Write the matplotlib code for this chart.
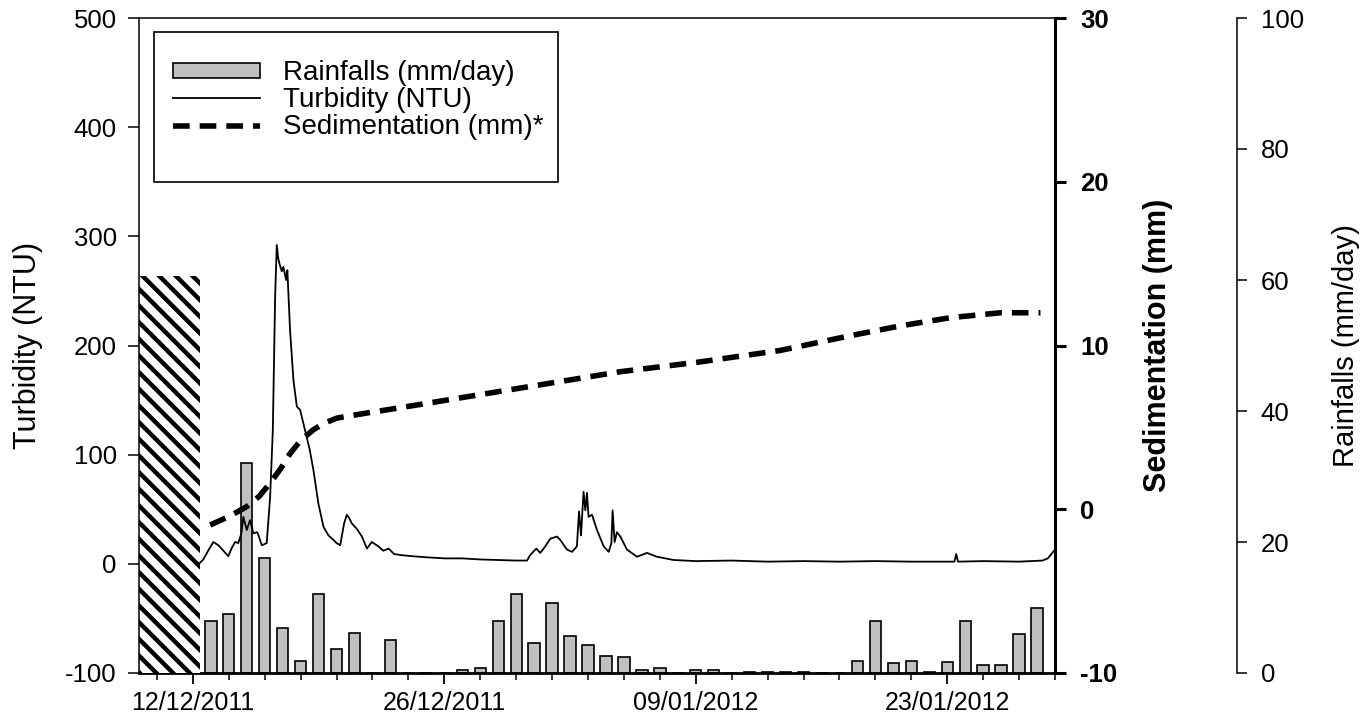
import matplotlib
matplotlib.use("Agg")
import matplotlib.pyplot as plt
from matplotlib.patches import Rectangle
import pandas as pd

plt.rcParams["font.family"] = ["Liberation Sans", "DejaVu Sans"]
plt.rcParams["hatch.linewidth"] = 3.2
plt.rcParams["hatch.color"] = "black"
plt.rcParams["axes.unicode_minus"] = False

# ---- data -------------------------------------------------------------
origin = pd.Timestamp("2011-12-09")
x_end = pd.Timestamp("2012-01-29")

rain_dates = pd.date_range("2011-12-13", "2012-01-28", freq="D")
rain_mm = [8.0, 9.0, 32.0, 17.6, 6.8, 1.8, 12.0, 3.6, 6.1, 0.0,
           5.0, 0.0, 0.0, 0.0, 0.4, 0.8, 8.0, 12.0, 4.6, 10.7,
           5.7, 4.3, 2.6, 2.4, 0.4, 0.8, 0.0, 0.4, 0.4, 0.0,
           0.2, 0.2, 0.2, 0.2, 0.0, 0.0, 1.8, 8.0, 1.5, 1.8,
           0.2, 1.7, 7.9, 1.2, 1.2, 5.9, 9.9]

# turbidity record, time in days after 09/12/2011
turb_day = [3.40, 3.58, 3.85, 4.14, 4.42, 4.70, 4.97, 5.15, 5.35, 5.53,
            5.70, 5.81, 6.00, 6.18, 6.37, 6.59, 6.84, 7.11, 7.30, 7.45,
            7.58, 7.67, 7.75, 7.82, 7.95, 8.04, 8.19, 8.26, 8.41, 8.60,
            8.79, 8.97, 9.25, 9.50, 9.71, 9.99, 10.27, 10.55, 10.82, 11.00,
            11.20, 11.42, 11.57, 11.70, 11.85, 12.13, 12.41, 12.69, 12.96, 13.33,
            13.60, 13.90, 14.20, 14.60, 15.20, 16.00, 17.00, 18.00, 19.00, 20.00,
            21.00, 21.60, 21.78, 21.95, 22.12, 22.34, 22.62, 22.90, 23.27, 23.45,
            23.83, 24.11, 24.38, 24.50, 24.61, 24.75, 24.85, 24.94, 25.03, 25.22,
            25.50, 25.87, 26.15, 26.30, 26.37, 26.48, 26.61, 26.80, 27.17, 27.73,
            28.28, 28.84, 29.77, 31.00, 33.00, 35.00, 37.00, 39.00, 41.00, 43.00,
            45.40, 45.50, 45.60, 47.00, 49.00, 50.30, 50.60, 50.95]
turb_ntu = [1, 4, 12, 20, 17, 12, 7, 14, 20, 19,
            28, 43, 31, 40, 28, 29, 17, 19, 61, 122,
            245, 292, 280, 275, 268, 272, 260, 269, 214, 168,
            144, 141, 122, 105, 86, 55, 34, 26, 22, 19,
            17, 37, 45, 42, 37, 32, 25, 14, 20, 16,
            12, 14, 9, 8, 7, 6, 5, 5, 4, 3.5,
            3, 3, 8, 11, 14, 10, 16, 23, 25, 22,
            13, 11, 16, 48, 26, 66, 49, 65, 43, 45,
            31, 16, 11, 19, 49, 20, 29, 25, 13, 6.5,
            10, 6.5, 3.5, 2.5, 3, 2, 2.5, 2, 2.5, 2,
            2, 9, 2, 2.5, 2, 3, 5, 12]

# cumulative sedimentation, time in days after 09/12/2011
sed_day = [3.96, 5.00, 6.00, 6.70, 7.30, 7.90, 8.41, 9.00, 9.69, 10.30,
           11.03, 12.70, 14.54, 17.88, 22.34, 26.80, 31.25, 35.71, 39.61, 42.40,
           45.18, 47.97, 50.19]
sed_mm = [-0.96, -0.45, 0.16, 0.80, 1.60, 2.50, 3.40, 4.20, 4.84, 5.25,
          5.57, 5.88, 6.20, 6.80, 7.60, 8.40, 9.00, 9.70, 10.60, 11.20,
          11.70, 12.00, 12.00]

# period without turbidity record
gap_day_end = 3.40
gap_top_ntu = 264

x_tick_labels = ["12/12/2011", "26/12/2011", "09/01/2012", "23/01/2012"]

# ---- figure -----------------------------------------------------------
W, H = 1368, 728
fig = plt.figure(figsize=(W / 100, H / 100), dpi=100)
left, right, top, bottom = 139, 1055, 18, 673
ax_rain = fig.add_axes([left / W, 1 - bottom / H, (right - left) / W, (bottom - top) / H])
ax_turb = ax_rain.twinx()
ax_sed = ax_rain.twinx()

fs_xtick = 18
fs_ytick = 18.5
fs_label = 22
fs_leg = 20

# rainfall bars
bars = ax_rain.bar(rain_dates, rain_mm, width=0.63, color="#c0c0c0",
                   edgecolor="black", linewidth=1.2, label="Rainfalls (mm/day)")
ax_rain.set_ylim(0, 100)
ax_rain.set_yticks(range(0, 101, 20))
ax_rain.yaxis.tick_right()
ax_rain.yaxis.set_label_position("right")
ax_rain.spines["right"].set_position(("outward", 131))
ax_rain.spines["right"].set_linewidth(1.1)
ax_rain.spines["left"].set_visible(False)
ax_rain.spines["top"].set_linewidth(1.1)
ax_rain.spines["bottom"].set_linewidth(2.0)
ax_rain.tick_params(axis="y", direction="out", length=7, width=1.1, labelsize=fs_ytick, pad=10)
ax_rain.set_ylabel("Rainfalls (mm/day)", fontsize=21)

# date axis
x_ticks = pd.to_datetime(x_tick_labels, format="%d/%m/%Y")
ax_rain.set_xlim(origin, x_end)
ax_rain.set_xticks(x_ticks)
ax_rain.set_xticklabels(x_tick_labels)
ax_rain.set_xticks(pd.date_range(origin + pd.Timedelta(days=1), x_end, freq="2D"), minor=True)
ax_rain.tick_params(axis="x", which="major", direction="out", length=8, width=1.3,
                    labelsize=fs_xtick, pad=5)
ax_rain.tick_params(axis="x", which="minor", direction="out", length=5, width=1.1)

# turbidity
turb_t = origin + pd.to_timedelta(turb_day, unit="D")
ax_turb.fill_between([origin, origin + pd.Timedelta(days=gap_day_end)], -100, gap_top_ntu,
                     facecolor="white", edgecolor="black", hatch="\\\\", linewidth=0)
turb_line, = ax_turb.plot(turb_t, turb_ntu, color="black", lw=1.3, label="Turbidity (NTU)")
ax_turb.set_ylim(-100, 500)
ax_turb.set_yticks(range(-100, 501, 100))
ax_turb.yaxis.tick_left()
ax_turb.yaxis.set_label_position("left")
for s in ("right", "top", "bottom"):
    ax_turb.spines[s].set_visible(False)
ax_turb.spines["left"].set_visible(True)
ax_turb.spines["left"].set_linewidth(1.1)
ax_turb.tick_params(axis="y", direction="out", length=8, width=1.1, labelsize=fs_ytick, pad=8)
ax_turb.set_ylabel("Turbidity (NTU)", fontsize=fs_label)

# sedimentation
sed_t = origin + pd.to_timedelta(sed_day, unit="D")
sed_line, = ax_sed.plot(sed_t, sed_mm, color="black", lw=4, dashes=(3, 1.8),
                        label="Sedimentation (mm)*")
ax_sed.set_ylim(-10, 30)
ax_sed.set_yticks(range(-10, 31, 10))
for s in ("left", "top", "bottom"):
    ax_sed.spines[s].set_visible(False)
ax_sed.spines["right"].set_linewidth(2.2)
ax_sed.tick_params(axis="y", direction="out", length=8, width=2.2, labelsize=fs_ytick, pad=10)
for lab in ax_sed.get_yticklabels():
    lab.set_fontweight("bold")
ax_sed.set_ylabel("Sedimentation (mm)", fontsize=fs_label, fontweight="bold")

# axis-title placement
ax_turb.yaxis.set_label_coords((28 - left) / (right - left), 0.5)
ax_sed.yaxis.set_label_coords((1158 - left) / (right - left), 0.5)
ax_rain.yaxis.set_label_coords((1346 - left) / (right - left), 0.5)
for a in (ax_turb, ax_sed, ax_rain):
    a.yaxis.label.set_va("center")
    a.yaxis.label.set_ha("center")

# legend with a hand-placed frame
leg = ax_sed.legend([bars, turb_line, sed_line],
                    ["Rainfalls (mm/day)", "Turbidity (NTU)", "Sedimentation (mm)*"],
                    loc="upper left",
                    bbox_to_anchor=((173 - left) / (right - left), 1 - (60 - top) / (bottom - top)),
                    frameon=False, fontsize=fs_leg, handlelength=3.13, handleheight=0.45,
                    handletextpad=0.83, labelspacing=0.04, borderaxespad=0, borderpad=0)
fig.canvas.draw()
bb = leg.get_window_extent()
box_right = bb.x1 + 14
frame_l, frame_top, frame_bot = 154, 31.7, 181.7
ax_sed.add_patch(Rectangle(((frame_l - left) / (right - left), 1 - (frame_bot - top) / (bottom - top)),
                           (box_right - frame_l) / (right - left),
                           (frame_bot - frame_top) / (bottom - top),
                           transform=ax_sed.transAxes, fill=False, edgecolor="black",
                           linewidth=1.2, zorder=5))

fig.savefig("out.png", dpi=100)
